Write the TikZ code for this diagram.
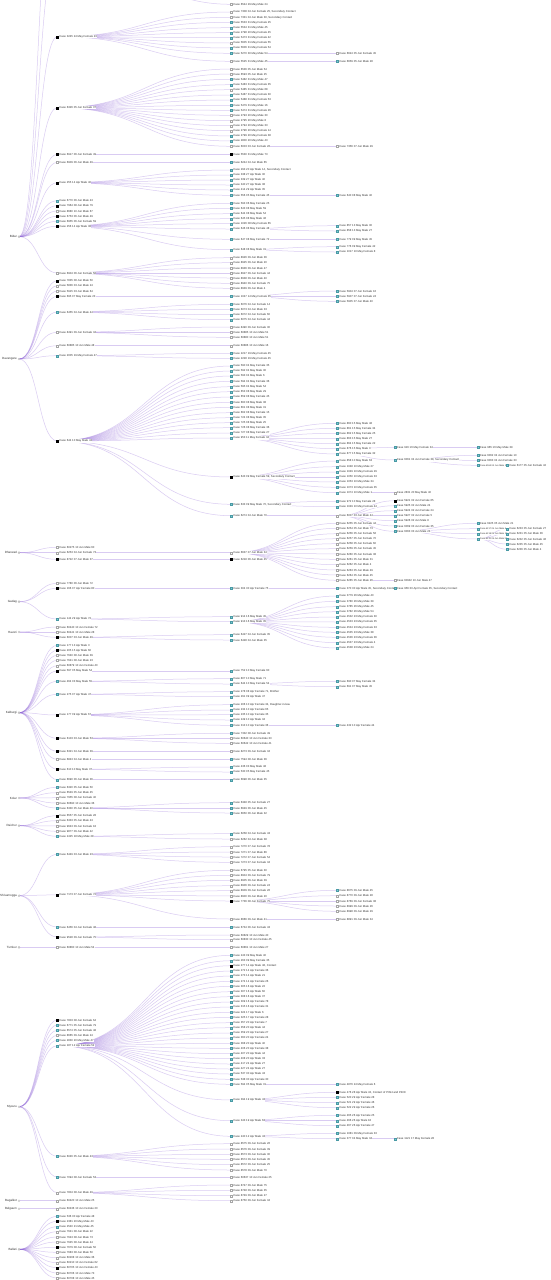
\documentclass[tikz,border=0pt]{standalone}
\usepackage{fontspec}
\setmainfont{Liberation Sans}
\usetikzlibrary{calc}
\pgfdeclarelayer{bg}
\pgfsetlayers{bg,main}
\definecolor{lnkc}{HTML}{8E63D8}
\definecolor{cyn}{HTML}{7CCBD2}
\definecolor{cynd}{HTML}{4A9AA5}
\tikzset{
 mk/.style={rectangle,minimum size=2.1pt,inner sep=0pt,line width=0.3pt},
 mkb/.style={mk,fill=black,draw=black},
 mkc/.style={mk,fill=cyn,draw=cynd},
 mkw/.style={mk,fill=white,draw=gray!70},
 dst/.style={circle,minimum size=2pt,inner sep=0pt,draw=gray!70,fill=white,line width=0.3pt},
 lbl/.style={anchor=west,font=\fontsize{2.8}{3}\selectfont,inner sep=0.25pt,fill=white,text=black!80,xshift=0.3pt},
 dlbl/.style={anchor=east,font=\fontsize{3}{3.5}\selectfont,inner sep=0.2pt,text=black!80,xshift=-0.6pt},
 lnk/.style={draw=lnkc,line width=0.5pt,opacity=0.33},
}
\def\lvA{57.5}\def\lvB{231.5}\def\lvC{337.5}\def\lvD{395}\def\lvE{478}\def\lvF{507.5}
\def\linklist{}
\newcommand\lk[2]{\draw[lnk] let \p1=(#1.center),\p2=(#2.center) in (\p1) .. controls ({(\x1+\x2)/2},\y1) and ({(\x1+\x2)/2},\y2) .. (\p2);}
\newcommand\addlink[2]{\expandafter\gdef\expandafter\linklist\expandafter{\linklist\lk{#1}{#2}}}
\newcommand\C[6]{\node[mk#5] (#2) at (#3,#4) {};\node[lbl] (#2t) at (#2.east) {#6};\addlink{#1}{#2}}
\newcommand\Cs[6]{\node[mk#5] (#2) at (#3,#4) {};\node[lbl,font=\fontsize{2.3}{2.6}\selectfont] (#2t) at (#2.east) {#6};\addlink{#1}{#2}}
\newcommand\D[4]{\node[dst] (#1) at (#2,#3) {};\node[dlbl] (#1t) at (#1.west) {#4};}
\begin{document}
\begin{tikzpicture}[x=1pt,y=-1pt]
\useasboundingbox (0,0) rectangle (551,1280);
\clip (0,0) rectangle (551,1280);
% ---------------- Bidar
\D{bi}{19}{236.7}{Bidar}
\coordinate (offA) at (\lvA,-48); \addlink{bi}{offA}
\coordinate (offB) at (\lvA,-145); \addlink{bi}{offB}
\C{offA}{bi0}{\lvB}{4.3}{w}{Case 6544 29 May Male 24}
\C{bi}{bi1}{\lvA}{36.7}{b}{Case 3245 24 May Female 23}
\C{bi1}{bi1a}{\lvB}{12}{w}{Case 7308 04 Jun Female 25, Secondary Contact}
\C{bi1}{bi1b}{\lvB}{17.3}{w}{Case 7331 04 Jun Male 30, Secondary Contact}
\C{bi1}{bi1c}{\lvB}{22.3}{c}{Case 5533 31 May Female 25}
\C{bi1}{bi1d}{\lvB}{27.7}{c}{Case 5534 31 May Male 45}
\C{bi1}{bi1e}{\lvB}{32.7}{c}{Case 2798 20 May Female 45}
\C{bi1}{bi1f}{\lvB}{37.7}{c}{Case 5473 31 May Female 42}
\C{bi1}{bi1g}{\lvB}{43}{w}{Case 5605 31 May Female 55}
\C{bi1}{bi1h}{\lvB}{48}{c}{Case 5606 31 May Female 54}
\C{bi1}{bi1i}{\lvB}{53.3}{c}{Case 5270 30 May Male 54}
\C{bi1i}{bi1i1}{\lvC}{53.3}{w}{Case 6624 05 Jun Female 45}
\C{bi1}{bi1j}{\lvB}{61.3}{w}{Case 5525 31 May Male 45}
\C{bi1j}{bi1j1}{\lvC}{61.3}{c}{Case 6659 05 Jun Male 28}
\C{bi}{bi2}{\lvA}{107.7}{b}{Case 6326 05 Jun Female 37}
\C{bi2}{bi2a}{\lvB}{69}{w}{Case 6536 05 Jun Male 54}
\C{bi2}{bi2b}{\lvB}{74}{w}{Case 6593 05 Jun Male 25}
\C{bi2}{bi2c}{\lvB}{79.3}{c}{Case 5482 31 May Male 47}
\C{bi2}{bi2d}{\lvB}{84.7}{c}{Case 5483 31 May Female 35}
\C{bi2}{bi2e}{\lvB}{89.7}{w}{Case 5485 31 May Male 68}
\C{bi2}{bi2f}{\lvB}{95}{c}{Case 5487 31 May Female 30}
\C{bi2}{bi2g}{\lvB}{100}{c}{Case 5488 31 May Female 53}
\C{bi2}{bi2h}{\lvB}{105.3}{c}{Case 5479 31 May Male 16}
\C{bi2}{bi2i}{\lvB}{110.3}{c}{Case 5474 31 May Female 26}
\C{bi2}{bi2j}{\lvB}{115.3}{w}{Case 2793 20 May Male 30}
\C{bi2}{bi2k}{\lvB}{120.7}{w}{Case 2795 20 May Male 8}
\C{bi2}{bi2l}{\lvB}{125.7}{w}{Case 2794 20 May Male 33}
\C{bi2}{bi2m}{\lvB}{130.7}{w}{Case 2796 20 May Female 14}
\C{bi2}{bi2n}{\lvB}{136}{c}{Case 2799 20 May Female 38}
\C{bi2}{bi2o}{\lvB}{141}{c}{Case 2800 20 May Male 43}
\C{bi2}{bi2p}{\lvB}{146.3}{w}{Case 6003 03 Jun Female 26}
\C{bi2p}{bi2p1}{\lvC}{146.3}{w}{Case 7356 07 Jun Male 29}
\C{bi}{bi3}{\lvA}{154.3}{b}{Case 6917 06 Jun Female 49}
\C{bi3}{bi3a}{\lvB}{154.3}{b}{Case 5530 31 May Male 73}
\C{bi}{bi4}{\lvA}{162.3}{w}{Case 6909 06 Jun Male 49}
\C{bi4}{bi4a}{\lvB}{162.3}{c}{Case 6244 04 Jun Male 65}
\C{bi}{bi5}{\lvA}{182.7}{b}{Case 255 14 Apr Male 40}
\C{bi5}{bi5a}{\lvB}{170}{c}{Case 293 20 Apr Male 14, Secondary Contact}
\C{bi5}{bi5b}{\lvB}{175}{c}{Case 338 27 Apr Male 30}
\C{bi5}{bi5c}{\lvB}{180}{c}{Case 339 27 Apr Male 40}
\C{bi5}{bi5d}{\lvB}{185}{c}{Case 340 27 Apr Male 38}
\C{bi5}{bi5e}{\lvB}{190}{c}{Case 414 29 Apr Male 35}
\C{bi5}{bi5f}{\lvB}{195.3}{c}{Case 556 05 May Female 45}
\C{bi5f}{bi5f1}{\lvC}{195.3}{c}{Case 640 08 May Male 40}
\C{bi}{bi6}{\lvA}{200.7}{c}{Case 6770 06 Jun Male 43}
\C{bi}{bi7}{\lvA}{205.7}{b}{Case 7964 08 Jun Male 79}
\C{bi}{bi8}{\lvA}{211}{w}{Case 8680 10 Jun Male 67}
\C{bi}{bi9}{\lvA}{216.3}{b}{Case 6753 06 Jun Male 49}
\C{bi}{bi10}{\lvA}{221.3}{c}{Case 6955 06 Jun Female 59}
\C{bi}{bi11}{\lvA}{226.3}{b}{Case 256 14 Apr Male 38}
\C{bi11}{bi11a}{\lvB}{203.3}{c}{Case 593 06 May Female 25}
\C{bi11}{bi11b}{\lvB}{208.3}{c}{Case 643 08 May Male 59}
\C{bi11}{bi11c}{\lvB}{213.7}{c}{Case 644 08 May Male 54}
\C{bi11}{bi11d}{\lvB}{218.7}{c}{Case 645 08 May Male 46}
\C{bi11}{bi11e}{\lvB}{223.7}{c}{Case 1026 08 May Female 65}
\C{bi11}{bi11f}{\lvB}{229}{c}{Case 646 08 May Female 48}
\C{bi11f}{bi11f1}{\lvC}{225.7}{c}{Case 857 13 May Male 30}
\C{bi11f}{bi11f2}{\lvC}{231}{c}{Case 858 13 May Male 27}
\C{bi11}{bi11g}{\lvB}{239.3}{c}{Case 647 08 May Female 72}
\C{bi11g}{bi11g1}{\lvC}{239.3}{c}{Case 779 09 May Male 45}
\C{bi11}{bi11h}{\lvB}{249.7}{c}{Case 648 08 May Male 31}
\C{bi11h}{bi11h1}{\lvC}{246.7}{c}{Case 776 09 May Female 42}
\C{bi11h}{bi11h2}{\lvC}{252}{c}{Case 1017 10 May Female 8}
\C{bi}{bi12}{\lvA}{273}{w}{Case 6904 06 Jun Female 58}
\C{bi12}{bi12a}{\lvB}{257.7}{w}{Case 8926 09 Jun Male 36}
\C{bi12}{bi12b}{\lvB}{262.7}{w}{Case 8925 09 Jun Male 20}
\C{bi12}{bi12c}{\lvB}{268}{w}{Case 8936 09 Jun Male 47}
\C{bi12}{bi12d}{\lvB}{273}{w}{Case 8927 09 Jun Female 44}
\C{bi12}{bi12e}{\lvB}{278}{w}{Case 8938 09 Jun Male 40}
\C{bi12}{bi12f}{\lvB}{283.3}{w}{Case 8940 09 Jun Female 75}
\C{bi12}{bi12g}{\lvB}{288.3}{w}{Case 8939 09 Jun Male 4}
% ---------------- Davangere
\D{dv}{19}{359}{Davangere}
\C{dv}{dv1}{\lvA}{280.7}{b}{Case 7835 08 Jun Male 50}
\C{dv}{dv2}{\lvA}{285.7}{w}{Case 5836 03 Jun Male 24}
\C{dv}{dv3}{\lvA}{291}{w}{Case 5915 03 Jun Male 64}
\C{dv}{dv4}{\lvA}{296.3}{b}{Case 695 07 May Female 23}
\C{dv4}{dv4a}{\lvB}{296.3}{c}{Case 1047 14 May Female 35}
\C{dv4a}{dv4a1}{\lvC}{291}{c}{Case 5904 07 Jun Female 16}
\C{dv4a}{dv4a2}{\lvC}{296.3}{c}{Case 5907 07 Jun Female 24}
\C{dv4a}{dv4a3}{\lvC}{301.3}{c}{Case 5905 07 Jun Male 40}
\C{dv}{dv5}{\lvA}{312}{c}{Case 6455 04 Jun Male 44}
\C{dv5}{dv5a}{\lvB}{304.3}{c}{Case 6076 04 Jun Female 14}
\C{dv5}{dv5b}{\lvB}{309.3}{c}{Case 6073 04 Jun Male 33}
\C{dv5}{dv5c}{\lvB}{314.7}{c}{Case 6072 04 Jun Female 60}
\C{dv5}{dv5d}{\lvB}{319.7}{c}{Case 6075 04 Jun Female 44}
\C{dv}{dv6}{\lvA}{332.3}{w}{Case 8491 09 Jun Female 34}
\C{dv6}{dv6a}{\lvB}{327}{w}{Case 8490 09 Jun Female 30}
\C{dv6}{dv6b}{\lvB}{332.3}{w}{Case 60885 10 Jun Male 51}
\C{dv6}{dv6c}{\lvB}{337.3}{w}{Case 60880 10 Jun Male 51}
\C{dv}{dv7}{\lvA}{345.7}{w}{Case 60885 10 Jun Male 48}
\C{dv7}{dv7a}{\lvB}{345.7}{w}{Case 60886 10 Jun Male 16}
\C{dv}{dv8}{\lvA}{355.7}{c}{Case 2005 19 May Female 47}
\C{dv8}{dv8a}{\lvB}{353.3}{c}{Case 2217 19 May Female 45}
\C{dv8}{dv8b}{\lvB}{358.3}{c}{Case 2228 19 May Female 45}
\C{dv}{dv9}{\lvA}{441}{b}{Case 644 10 May Male 43}
\C{dv9}{dv9a}{\lvB}{366}{c}{Case 590 04 May Female 35}
\C{dv9}{dv9b}{\lvB}{371}{c}{Case 592 04 May Male 30}
\C{dv9}{dv9c}{\lvB}{376}{c}{Case 593 04 May Male 6}
\C{dv9}{dv9d}{\lvB}{381.3}{c}{Case 594 04 May Female 36}
\C{dv9}{dv9e}{\lvB}{386.7}{c}{Case 595 04 May Male 54}
\C{dv9}{dv9f}{\lvB}{391.7}{c}{Case 653 08 May Male 29}
\C{dv9}{dv9g}{\lvB}{397}{c}{Case 659 08 May Female 45}
\C{dv9}{dv9h}{\lvB}{402.3}{c}{Case 660 08 May Male 38}
\C{dv9}{dv9i}{\lvB}{407.3}{c}{Case 661 08 May Male 31}
\C{dv9}{dv9j}{\lvB}{412.7}{c}{Case 662 08 May Female 15}
\C{dv9}{dv9k}{\lvB}{417.7}{c}{Case 724 08 May Male 35}
\C{dv9}{dv9l}{\lvB}{422.7}{c}{Case 725 08 May Male 25}
\C{dv9}{dv9m}{\lvB}{427.7}{c}{Case 726 08 May Female 36}
\C{dv9}{dv9n}{\lvB}{433}{c}{Case 727 08 May Female 27}
\C{dv9}{dv9o}{\lvB}{438}{c}{Case 953 11 May Female 34}
\C{dv9o}{dv9o1}{\lvC}{423.3}{c}{Case 860 15 May Male 48}
\C{dv9o}{dv9o2}{\lvC}{428.3}{c}{Case 861 15 May Female 34}
\C{dv9o}{dv9o3}{\lvC}{433.3}{c}{Case 862 15 May Female 25}
\C{dv9o}{dv9o4}{\lvC}{438.7}{c}{Case 863 15 May Male 27}
\C{dv9o}{dv9o5}{\lvC}{443.7}{c}{Case 864 15 May Female 22}
\C{dv9o}{dv9o6}{\lvC}{448.7}{c}{Case 876 15 May Male 3}
\C{dv9o6}{dv9o6a}{\lvD}{447.3}{c}{Case 916 16 May Female 34}
\C{dv9o6a}{dv9o6b}{\lvE}{447.3}{c}{Case 965 16 May Male 39}
\C{dv9o}{dv9o7}{\lvC}{454}{c}{Case 877 15 May Female 32}
\C{dv9o7}{dv9o7a}{\lvD}{460}{c}{Case 6061 04 Jun Female 38, Secondary Contact}
\C{dv9o7a}{dv9o7b}{\lvE}{455.3}{c}{Case 6062 04 Jun Female 10}
\C{dv9o7a}{dv9o7c}{\lvE}{460.3}{c}{Case 6063 04 Jun Female 33}
\Cs{dv9o7a}{dv9o7d}{\lvE}{465.3}{c}{Case 6064 04 Jun Male 19}
\C{dv9o7d}{dv9o7e}{\lvF}{465.3}{c}{Case 6177 05 Jun Female 42}
\C{dv9}{dv9p}{\lvB}{477}{b}{Case 643 09 May Female 59, Secondary Contact}
\C{dv9p}{dv9p1}{\lvC}{461}{c}{Case 858 10 May Male 63}
\C{dv9p}{dv9p2}{\lvC}{466.7}{c}{Case 1048 10 May Male 27}
\C{dv9p}{dv9p3}{\lvC}{472}{c}{Case 1049 10 May Female 29}
\C{dv9p}{dv9p4}{\lvC}{477}{c}{Case 1050 10 May Female 33}
\C{dv9p}{dv9p5}{\lvC}{482}{c}{Case 1053 10 May Male 34}
\C{dv9p}{dv9p6}{\lvC}{487.3}{c}{Case 1073 10 May Female 35}
\C{dv9p}{dv9p7}{\lvC}{492.7}{c}{Case 1074 10 May Male 1}
\C{dv9p7}{dv9p7a}{\lvD}{492.7}{w}{Case 2831 20 May Male 40}
\C{dv9}{dv9q}{\lvB}{504.3}{c}{Case 633 09 May Male 70, Secondary Contact}
\C{dv9q}{dv9q1}{\lvC}{501.3}{c}{Case 972 10 May Female 28}
\C{dv9q}{dv9q2}{\lvC}{506.7}{c}{Case 1049 10 May Female 44}
\C{dv9}{dv9r}{\lvB}{515.7}{c}{Case 6274 04 Jun Male 70}
\C{dv9r}{dv9r1}{\lvC}{515.7}{w}{Case 6007 03 Jun Male 44}
\C{dv9r1}{dv9r1a}{\lvD}{500.7}{b}{Case 5921 02 Jun Female 65}
\C{dv9r1}{dv9r1b}{\lvD}{505.7}{c}{Case 5925 02 Jun Male 24}
\C{dv9r1}{dv9r1c}{\lvD}{510.7}{c}{Case 5924 02 Jun Female 24}
\C{dv9r1}{dv9r1d}{\lvD}{515.7}{c}{Case 5927 02 Jun Female 5}
\C{dv9r1}{dv9r1e}{\lvD}{520.7}{c}{Case 5926 02 Jun Male 8}
\C{dv9r1}{dv9r1f}{\lvD}{526}{c}{Case 6069 03 Jun Female 35}
\C{dv9r1}{dv9r1g}{\lvD}{531.3}{c}{Case 6063 03 Jun Male 23}
\C{dv9r1g}{dv9g1}{\lvE}{523.3}{c}{Case 6225 05 Jun Male 21}
\Cs{dv9r1g}{dv9g2}{\lvE}{528.7}{c}{Case 6217 05 Jun Male 6}
\Cs{dv9r1g}{dv9g3}{\lvE}{533.7}{c}{Case 6218 05 Jun Male 19}
\Cs{dv9r1g}{dv9g4}{\lvE}{539}{c}{Case 6211 05 Jun Male 31}
\C{dv9g4}{dv9h1}{\lvF}{528.7}{c}{Case 6233 05 Jun Female 27}
\C{dv9g4}{dv9h2}{\lvF}{533.7}{c}{Case 6231 05 Jun Male 36}
\C{dv9g4}{dv9h3}{\lvF}{539}{c}{Case 6232 05 Jun Female 46}
\C{dv9g4}{dv9h4}{\lvF}{544}{c}{Case 6235 05 Jun Male 45}
\C{dv9g4}{dv9h5}{\lvF}{549.3}{c}{Case 6236 05 Jun Male 4}
% ---------------- Dharwad
\D{dw}{19}{552.7}{Dharwad}
\C{dw}{dw1}{\lvA}{547.3}{w}{Case 60275 10 Jun Male 60}
\C{dw}{dw2}{\lvA}{552.7}{w}{Case 6253 04 Jun Female 73}
\C{dw2}{dw2a}{\lvB}{552.7}{w}{Case 6637 07 Jun Male 34}
\C{dw2a}{dw2a1}{\lvC}{523.3}{w}{Case 6255 05 Jun Female 44}
\C{dw2a}{dw2a2}{\lvC}{528.3}{w}{Case 6254 05 Jun Male 73}
\C{dw2a}{dw2a3}{\lvC}{533.7}{w}{Case 6256 05 Jun Female 56}
\C{dw2a}{dw2a4}{\lvC}{538.7}{w}{Case 6257 05 Jun Female 70}
\C{dw2a}{dw2a5}{\lvC}{543.7}{w}{Case 6258 05 Jun Female 60}
\C{dw2a}{dw2a6}{\lvC}{548.7}{w}{Case 6259 05 Jun Female 45}
\C{dw2a}{dw2a7}{\lvC}{554}{w}{Case 6260 05 Jun Female 38}
\C{dw2a}{dw2a8}{\lvC}{559.3}{w}{Case 6261 05 Jun Male 31}
\C{dw2a}{dw2a9}{\lvC}{564.7}{w}{Case 6262 05 Jun Male 4}
\C{dw2a}{dw2a10}{\lvC}{570}{w}{Case 6263 05 Jun Male 49}
\C{dw2a}{dw2a11}{\lvC}{575}{w}{Case 6264 05 Jun Male 45}
\C{dw2a}{dw2a12}{\lvC}{580.3}{w}{Case 6265 05 Jun Male 26}
\C{dw2a12}{dw2a12a}{\lvD}{580.3}{w}{Case 60932 10 Jun Male 47}
\C{dw}{dw3}{\lvA}{559.3}{b}{Case 8722 07 Jun Male 37}
\C{dw3}{dw3a}{\lvB}{559.3}{b}{Case 6218 06 Jun Male 45}
% ---------------- Gadag
\D{gd}{19}{601.7}{Gadag}
\C{gd}{gd1}{\lvA}{583.3}{w}{Case 7780 06 Jun Male 72}
\C{gd}{gd2}{\lvA}{588.3}{b}{Case 166 07 Apr Female 80}
\C{gd2}{gd2a}{\lvB}{588.3}{c}{Case 304 30 Apr Female 75}
\C{gd2a}{gd2b}{\lvC}{588.3}{c}{Case 370 30 Apr Male 45, Secondary Contact}
\C{gd2b}{gd2c}{\lvD}{588.3}{c}{Case 956 30 Apr Female 35, Secondary Contact}
\C{gd}{gd3}{\lvA}{619}{c}{Case 144 29 Apr Male 72}
\C{gd3}{gd3a}{\lvB}{616.7}{c}{Case 914 16 May Male 45}
\C{gd3}{gd3b}{\lvB}{621.7}{c}{Case 913 16 May Male 35}
\C{gd3b}{gd3b1}{\lvC}{596}{c}{Case 3779 26 May Male 40}
\C{gd3b}{gd3b2}{\lvC}{601.3}{c}{Case 3780 26 May Male 39}
\C{gd3b}{gd3b3}{\lvC}{606.7}{c}{Case 3785 26 May Male 45}
\C{gd3b}{gd3b4}{\lvC}{611.7}{c}{Case 3782 26 May Male 54}
\C{gd3b}{gd3b5}{\lvC}{617}{c}{Case 4532 23 May Female 30}
\C{gd3b}{gd3b6}{\lvC}{622}{c}{Case 4533 23 May Female 35}
\C{gd3b}{gd3b7}{\lvC}{627.3}{c}{Case 4534 23 May Female 33}
\C{gd3b}{gd3b8}{\lvC}{632.3}{c}{Case 4535 23 May Male 38}
\C{gd3b}{gd3b9}{\lvC}{637.3}{c}{Case 4536 23 May Female 36}
\C{gd3b}{gd3b10}{\lvC}{642.7}{c}{Case 4537 23 May Female 4}
\C{gd3b}{gd3b11}{\lvC}{648}{c}{Case 4538 23 May Male 24}
% ---------------- Haveri
\D{hv}{19}{632}{Haveri}
\C{hv}{hv1}{\lvA}{627}{w}{Case 60440 10 Jun Female 72}
\C{hv}{hv2}{\lvA}{632}{w}{Case 60441 10 Jun Male 28}
\C{hv}{hv3}{\lvA}{637.3}{b}{Case 6007 03 Jun Male 49}
\C{hv3}{hv3a}{\lvB}{634.7}{c}{Case 6427 04 Jun Female 35}
\C{hv3}{hv3b}{\lvB}{640}{c}{Case 6428 04 Jun Male 35}
% ---------------- Kalburgi
\D{kb}{19}{712.7}{Kalburgi}
\C{kb}{kb1}{\lvA}{645.3}{c}{Case 177 13 Apr Male 3}
\C{kb}{kb2}{\lvA}{650.3}{b}{Case 205 15 Apr Male 60}
\C{kb}{kb3}{\lvA}{655.3}{w}{Case 7640 08 Jun Male 39}
\C{kb}{kb4}{\lvA}{660.3}{w}{Case 7641 08 Jun Male 23}
\C{kb}{kb5}{\lvA}{665.7}{w}{Case 60879 10 Jun Female 40}
\C{kb}{kb6}{\lvA}{671}{b}{Case 597 05 May Male 54}
\C{kb6}{kb6a}{\lvB}{671}{c}{Case 752 10 May Female 60}
\C{kb}{kb7}{\lvA}{681.3}{c}{Case 464 03 May Male 55}
\C{kb7}{kb7a}{\lvB}{678.7}{c}{Case 807 10 May Male 71}
\C{kb7}{kb7b}{\lvB}{684}{c}{Case 644 10 May Female 54}
\C{kb7b}{kb7b1}{\lvC}{681.3}{c}{Case 690 07 May Female 34}
\C{kb7b}{kb7b2}{\lvC}{686.7}{c}{Case 691 07 May Male 45}
\C{kb}{kb8}{\lvA}{694.3}{c}{Case 275 07 Apr Male 47}
\C{kb8}{kb8a}{\lvB}{691.7}{c}{Case 278 08 Apr Female 71, Brother}
\C{kb8}{kb8b}{\lvB}{696.7}{c}{Case 291 09 Apr Male 47}
\C{kb}{kb9}{\lvA}{715}{b}{Case 177 09 Apr Male 67}
\C{kb9}{kb9a}{\lvB}{704.7}{c}{Case 206 10 Apr Female 34, Daughter-in-law}
\C{kb9}{kb9b}{\lvB}{710}{c}{Case 234 10 Apr Female 65}
\C{kb9}{kb9c}{\lvB}{714.7}{c}{Case 235 10 Apr Female 35}
\C{kb9}{kb9d}{\lvB}{720}{c}{Case 249 10 Apr Male 34}
\C{kb9}{kb9e}{\lvB}{725.3}{c}{Case 313 10 Apr Female 36}
\C{kb9e}{kb9e1}{\lvC}{725.3}{c}{Case 432 10 Apr Female 44}
\C{kb}{kb10}{\lvA}{738.3}{b}{Case 6103 03 Jun Male 53}
\C{kb10}{kb10a}{\lvB}{733.3}{c}{Case 7332 08 Jun Female 49}
\C{kb10}{kb10b}{\lvB}{738.3}{w}{Case 60640 10 Jun Female 33}
\C{kb10}{kb10c}{\lvB}{743.3}{w}{Case 60642 10 Jun Female 41}
\C{kb}{kb11}{\lvA}{751.3}{b}{Case 6321 04 Jun Male 39}
\C{kb11}{kb11a}{\lvB}{751.3}{w}{Case 8273 09 Jun Female 34}
\C{kb}{kb12}{\lvA}{759.3}{w}{Case 6843 04 Jun Male 4}
\C{kb12}{kb12a}{\lvB}{759.3}{c}{Case 7594 08 Jun Male 36}
\C{kb}{kb13}{\lvA}{769.3}{b}{Case 610 10 May Male 37}
\C{kb13}{kb13a}{\lvB}{767}{c}{Case 436 03 May Male 48}
\C{kb13}{kb13b}{\lvB}{772}{c}{Case 530 05 May Female 45}
\C{kb}{kb14}{\lvA}{779.7}{c}{Case 6690 06 Jun Male 36}
\C{kb14}{kb14a}{\lvB}{779.7}{c}{Case 6698 06 Jun Male 35}
% ---------------- Kolar
\D{ko}{19}{798}{Kolar}
\C{ko}{ko1}{\lvA}{787.3}{c}{Case 6320 05 Jun Male 50}
\C{ko}{ko2}{\lvA}{792.7}{w}{Case 6549 05 Jun Male 45}
\C{ko}{ko3}{\lvA}{797.7}{w}{Case 7955 08 Jun Female 40}
\C{ko}{ko4}{\lvA}{803}{w}{Case 60690 10 Jun Male 36}
\C{ko}{ko5}{\lvA}{808}{c}{Case 6330 05 Jun Male 40}
\C{ko5}{ko5a}{\lvB}{802.7}{c}{Case 6348 05 Jun Female 27}
\C{ko5}{ko5b}{\lvB}{808}{c}{Case 6649 06 Jun Male 45}
\C{ko5}{ko5c}{\lvB}{813}{c}{Case 6650 06 Jun Male 32}
% ---------------- Raichur
\D{kd}{19}{825.7}{Raichur}
\C{kd}{kd1}{\lvA}{815.7}{b}{Case 6557 05 Jun Female 28}
\C{kd}{kd2}{\lvA}{820.7}{w}{Case 6333 05 Jun Male 43}
\C{kd}{kd3}{\lvA}{826}{w}{Case 9643 09 Jun Female 18}
\C{kd}{kd4}{\lvA}{831.3}{w}{Case 9877 09 Jun Male 42}
\C{kd}{kd5}{\lvA}{836.3}{c}{Case 2425 18 May Male 28}
\C{kd5}{kd5a}{\lvB}{833.7}{c}{Case 6258 04 Jun Female 43}
\C{kd5}{kd5b}{\lvB}{839}{w}{Case 6262 04 Jun Male 38}
% ---------------- Shivamogga
\D{sh}{19}{895.7}{Shivamogga}
\C{sh}{sh1}{\lvA}{854.3}{c}{Case 6449 03 Jun Male 23}
\C{sh1}{sh1a}{\lvB}{846.7}{w}{Case 7270 07 Jun Female 78}
\C{sh1}{sh1b}{\lvB}{852}{w}{Case 7271 07 Jun Male 86}
\C{sh1}{sh1c}{\lvB}{857}{w}{Case 7272 07 Jun Female 54}
\C{sh1}{sh1d}{\lvB}{862.3}{w}{Case 7273 07 Jun Female 34}
\C{sh}{sh2}{\lvA}{894.7}{b}{Case 7173 07 Jun Female 72}
\C{sh2}{sh2a}{\lvB}{870.3}{w}{Case 6795 05 Jun Male 30}
\C{sh2}{sh2b}{\lvB}{875.3}{w}{Case 8904 09 Jun Female 79}
\C{sh2}{sh2c}{\lvB}{880.3}{w}{Case 8905 09 Jun Male 39}
\C{sh2}{sh2d}{\lvB}{885.7}{w}{Case 8906 09 Jun Female 24}
\C{sh2}{sh2e}{\lvB}{890.7}{w}{Case 8909 09 Jun Female 26}
\C{sh2}{sh2f}{\lvB}{896}{w}{Case 8900 09 Jun Male 20}
\C{sh2}{sh2g}{\lvB}{901}{b}{Case 7736 08 Jun Female 75}
\C{sh2g}{sh2g1}{\lvC}{890.3}{c}{Case 8675 09 Jun Male 45}
\C{sh2g}{sh2g2}{\lvC}{895.7}{w}{Case 8770 09 Jun Male 28}
\C{sh2g}{sh2g3}{\lvC}{901}{w}{Case 8769 09 Jun Female 38}
\C{sh2g}{sh2g4}{\lvC}{906}{w}{Case 8999 09 Jun Male 26}
\C{sh2g}{sh2g5}{\lvC}{911.3}{w}{Case 8998 09 Jun Male 29}
\C{sh2}{sh2h}{\lvB}{919}{w}{Case 8666 09 Jun Male 41}
\C{sh2h}{sh2h1}{\lvC}{919}{w}{Case 8891 09 Jun Male 34}
\C{sh}{sh3}{\lvA}{927}{c}{Case 6456 04 Jun Female 48}
\C{sh3}{sh3a}{\lvB}{927}{c}{Case 6734 06 Jun Female 43}
\C{sh}{sh4}{\lvA}{937}{b}{Case 9528 09 Jun Female 75}
\C{sh4}{sh4a}{\lvB}{935}{w}{Case 60829 10 Jun Male 40}
\C{sh4}{sh4b}{\lvB}{939.7}{w}{Case 60830 10 Jun Female 45}
% ---------------- Tumkur
\D{tk}{19}{947.3}{Tumkur}
\C{tk}{tk1}{\lvA}{947.3}{w}{Case 60860 10 Jun Male 54}
\C{tk1}{tk1a}{\lvB}{947.3}{w}{Case 60861 10 Jun Male 27}
% ---------------- Mysuru
\D{my}{19}{1106.7}{Mysuru}
\C{my}{my1}{\lvA}{1020}{b}{Case 7803 08 Jun Female 64}
\C{my}{my2}{\lvA}{1025}{c}{Case 6771 05 Jun Female 79}
\C{my}{my3}{\lvA}{1030.3}{c}{Case 6574 05 Jun Female 48}
\C{my}{my4}{\lvA}{1035.3}{w}{Case 8665 09 Jun Male 24}
\C{my}{my5}{\lvA}{1040.3}{c}{Case 2830 20 May Male 47}
\C{my}{my6}{\lvA}{1045.7}{c}{Case 187 12 Apr Female 52}
\C{my6}{my6a}{\lvB}{955.3}{c}{Case 243 09 May Male 40}
\C{my6}{my6b}{\lvB}{960.7}{c}{Case 263 09 May Female 35}
\C{my6}{my6c}{\lvB}{965.7}{b}{Case 277 14 Apr Male 48, Contact}
\C{my6}{my6d}{\lvB}{971}{c}{Case 272 14 Apr Female 36}
\C{my6}{my6e}{\lvB}{976}{c}{Case 273 14 Apr Male 21}
\C{my6}{my6f}{\lvB}{981.3}{c}{Case 274 14 Apr Female 26}
\C{my6}{my6g}{\lvB}{986.3}{c}{Case 305 16 Apr Male 22}
\C{my6}{my6h}{\lvB}{991.7}{c}{Case 307 16 Apr Male 60}
\C{my6}{my6i}{\lvB}{996.7}{c}{Case 308 16 Apr Male 37}
\C{my6}{my6j}{\lvB}{1002}{c}{Case 309 16 Apr Female 78}
\C{my6}{my6k}{\lvB}{1007}{c}{Case 315 16 Apr Female 31}
\C{my6}{my6l}{\lvB}{1012.3}{c}{Case 324 17 Apr Male 6}
\C{my6}{my6m}{\lvB}{1017.3}{c}{Case 325 17 Apr Female 28}
\C{my6}{my6n}{\lvB}{1022.7}{c}{Case 357 20 Apr Female 7}
\C{my6}{my6o}{\lvB}{1027.7}{c}{Case 358 20 Apr Male 44}
\C{my6}{my6p}{\lvB}{1033}{c}{Case 359 20 Apr Female 27}
\C{my6}{my6q}{\lvB}{1038}{c}{Case 360 20 Apr Female 24}
\C{my6}{my6r}{\lvB}{1043.3}{c}{Case 368 20 Apr Male 40}
\C{my6}{my6s}{\lvB}{1048.3}{c}{Case 406 20 Apr Female 38}
\C{my6}{my6t}{\lvB}{1053.7}{c}{Case 407 20 Apr Male 44}
\C{my6}{my6u}{\lvB}{1058.7}{c}{Case 408 20 Apr Male 33}
\C{my6}{my6v}{\lvB}{1064}{c}{Case 417 24 Apr Male 27}
\C{my6}{my6w}{\lvB}{1069}{c}{Case 427 24 Apr Male 27}
\C{my6}{my6x}{\lvB}{1074}{c}{Case 537 30 Apr Male 43}
\C{my6}{my6y}{\lvB}{1079.3}{c}{Case 538 30 Apr Female 30}
\C{my6}{my6z}{\lvB}{1084.3}{c}{Case 594 05 May Male 31}
\C{my6z}{my6z1}{\lvC}{1084.3}{c}{Case 4876 24 May Female 6}
\C{my6}{my6A}{\lvB}{1100}{c}{Case 394 19 Apr Male 43}
\C{my6A}{my6A1}{\lvC}{1092.3}{b}{Case 476 28 Apr Male 43, Contact of P394 and P408}
\C{my6A}{my6A2}{\lvC}{1097.3}{c}{Case 520 29 Apr Female 28}
\C{my6A}{my6A3}{\lvC}{1102.7}{c}{Case 521 29 Apr Female 46}
\C{my6A}{my6A4}{\lvC}{1107.7}{c}{Case 522 29 Apr Female 26}
\C{my6}{my6B}{\lvB}{1120.7}{c}{Case 343 19 Apr Male 63}
\C{my6B}{my6B1}{\lvC}{1115.3}{c}{Case 465 26 Apr Female 25}
\C{my6B}{my6B2}{\lvC}{1120.7}{c}{Case 466 26 Apr Male 18}
\C{my6B}{my6B3}{\lvC}{1125.7}{c}{Case 467 26 Apr Female 47}
\C{my6}{my6C}{\lvB}{1136.3}{c}{Case 240 12 Apr Male 43}
\C{my6C}{my6C1}{\lvC}{1133.3}{c}{Case 1081 09 May Female 33}
\C{my6C}{my6C2}{\lvC}{1138.7}{c}{Case 377 04 May Male 34}
\C{my6C2}{my6C2a}{\lvD}{1138.7}{c}{Case 1121 17 May Female 28}
\C{my}{my7}{\lvA}{1156.3}{c}{Case 6046 05 Jun Male 43}
\C{my7}{my7a}{\lvB}{1143.7}{w}{Case 8575 09 Jun Female 26}
\C{my7}{my7b}{\lvB}{1149}{w}{Case 8576 09 Jun Female 39}
\C{my7}{my7c}{\lvB}{1154.3}{w}{Case 8573 09 Jun Female 30}
\C{my7}{my7d}{\lvB}{1159.3}{w}{Case 8574 09 Jun Female 45}
\C{my7}{my7e}{\lvB}{1164.7}{w}{Case 8572 09 Jun Female 25}
\C{my7}{my7f}{\lvB}{1170}{w}{Case 8578 09 Jun Male 70}
\C{my}{my8}{\lvA}{1177}{c}{Case 7094 08 Jun Female 53}
\C{my8}{my8a}{\lvB}{1177}{w}{Case 60637 10 Jun Female 25}
\C{my}{my9}{\lvA}{1192.7}{w}{Case 7804 08 Jun Male 49}
\C{my9}{my9a}{\lvB}{1185}{w}{Case 8747 09 Jun Male 75}
\C{my9}{my9b}{\lvB}{1190.3}{w}{Case 8748 09 Jun Male 35}
\C{my9}{my9c}{\lvB}{1195.7}{w}{Case 8749 09 Jun Male 27}
\C{my9}{my9d}{\lvB}{1200.7}{w}{Case 8750 09 Jun Female 34}
% ---------------- Bagalkot, Belgaum, Ballari
\D{bg}{19}{1200.7}{Bagalkot}
\C{bg}{bg1}{\lvA}{1200.7}{w}{Case 60420 10 Jun Male 25}
\D{bl}{19}{1208.7}{Belgaum}
\C{bl}{bl1}{\lvA}{1208.7}{w}{Case 60436 10 Jun Female 20}
\D{br}{19}{1249.3}{Ballari}
\C{br}{br1}{\lvA}{1216.3}{c}{Case 536 30 Apr Female 48}
\C{br}{br2}{\lvA}{1221.3}{b}{Case 2381 20 May Male 43}
\C{br}{br3}{\lvA}{1226.7}{c}{Case 2540 21 May Male 45}
\C{br}{br4}{\lvA}{1231.7}{w}{Case 7641 08 Jun Male 22}
\C{br}{br5}{\lvA}{1237}{w}{Case 7643 08 Jun Male 73}
\C{br}{br6}{\lvA}{1242}{w}{Case 7645 08 Jun Male 44}
\C{br}{br7}{\lvA}{1247.3}{b}{Case 7679 08 Jun Female 50}
\C{br}{br8}{\lvA}{1252.3}{w}{Case 7683 08 Jun Male 50}
\C{br}{br9}{\lvA}{1257.7}{w}{Case 60208 10 Jun Male 36}
\C{br}{br10}{\lvA}{1262.7}{w}{Case 60210 10 Jun Female 62}
\C{br}{br11}{\lvA}{1267.7}{b}{Case 60705 10 Jun Female 43}
\C{br}{br12}{\lvA}{1273}{w}{Case 60706 10 Jun Male 73}
\C{br}{br13}{\lvA}{1278}{w}{Case 60708 10 Jun Male 45}
% ---------------- links under everything
\begin{pgfonlayer}{bg}
\fill[white] (0,0) rectangle (551,1280);
\linklist
\end{pgfonlayer}
\end{tikzpicture}
\end{document}
